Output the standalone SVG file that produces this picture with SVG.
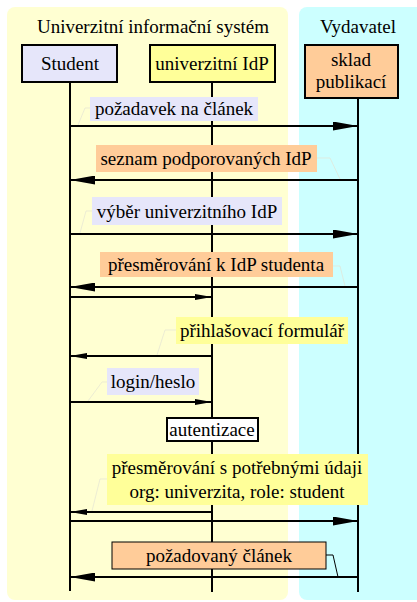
<svg xmlns="http://www.w3.org/2000/svg" width="417" height="602" viewBox="0 0 417 602" font-family="'Liberation Serif', 'DejaVu Serif', serif">
<style>
text{font-family:'Liberation Serif','DejaVu Serif',serif;font-size:19px;fill:#000;text-anchor:middle}
.life{stroke:#000;stroke-width:2;fill:none}
.msg{stroke:#000;stroke-width:2;fill:none}
.call{stroke:#e4e4d4;stroke-width:0.7;fill:none}
.lav{fill:#e6e6fa}
.org{fill:#ffcc99}
.yel{fill:#ffff99}
.actor{stroke:#000;stroke-width:2}
</style>
<defs>
<marker id="big" markerWidth="25" markerHeight="9" refX="25" refY="4.5" orient="auto" markerUnits="userSpaceOnUse"><path d="M0,0 L25,4.5 L0,9 Z" fill="#000"/></marker>
<marker id="small" markerWidth="17" markerHeight="6" refX="17" refY="3" orient="auto" markerUnits="userSpaceOnUse"><path d="M0,0 L17,3 L0,6 Z" fill="#000"/></marker>
</defs>
<g id="panels">
<rect x="7" y="7" width="281" height="593" rx="8" fill="#ffffd2"/>
<rect x="299" y="7" width="130" height="593" rx="8" fill="#ccffff"/>
<text x="153" y="33">Univerzitní informační systém</text>
<text x="358" y="33">Vydavatel</text>
</g>
<g id="connectors">
<line class="life" x1="70" y1="82" x2="70" y2="591"/>
<line class="life" x1="212" y1="82" x2="212" y2="592"/>
<line class="life" x1="358" y1="98" x2="358" y2="592"/>
<line class="msg" x1="70" y1="126" x2="358" y2="126" marker-end="url(#big)"/>
<line class="msg" x1="358" y1="180" x2="70" y2="180" marker-end="url(#big)"/>
<line class="msg" x1="70" y1="234" x2="358" y2="234" marker-end="url(#big)"/>
<line class="msg" x1="358" y1="287" x2="70" y2="287" marker-end="url(#big)"/>
<line class="msg" x1="70" y1="297" x2="212" y2="297" marker-end="url(#small)"/>
<line class="msg" x1="212" y1="356" x2="70" y2="356" marker-end="url(#small)"/>
<line class="msg" x1="70" y1="402" x2="212" y2="402" marker-end="url(#small)"/>
<line class="msg" x1="212" y1="512" x2="70" y2="512" marker-end="url(#small)"/>
<line class="msg" x1="70" y1="521" x2="358" y2="521" marker-end="url(#big)"/>
<line class="msg" x1="358" y1="577" x2="70" y2="577" marker-end="url(#big)"/>
<polyline class="call" points="90,108 85,108 78,125"/>
<polyline class="call" points="317,158 330,158 340,179"/>
<polyline class="call" points="92,211 86,211 80,233"/>
<polyline class="call" points="333,266 340,266 345,286"/>
<polyline class="call" points="176,330 165,330 157,355"/>
<polyline class="call" points="107,382 102,382 88,401"/>
<polyline class="call" points="107,479 100,479 92,511"/>
<polyline points="326,555 333,555 338,577" fill="none" stroke="#000" stroke-width="1"/>
</g>
<g id="student">
<rect class="actor lav" x="22" y="45" width="95" height="37"/>
<text x="70" y="70">Student</text>
</g>
<g id="idp">
<rect class="actor yel" x="150" y="45" width="125" height="37"/>
<text x="212" y="70">univerzitní IdP</text>
</g>
<g id="sklad">
<rect class="actor org" x="305" y="45" width="93" height="53"/>
<text x="351" y="66">sklad</text>
<text x="351" y="88">publikací</text>
</g>
<g id="m1"><rect class="lav" x="90" y="97" width="168" height="24"/><text x="174" y="115">požadavek na článek</text></g>
<g id="m2"><rect class="org" x="96" y="145" width="221" height="27"/><text x="206" y="165">seznam podporovaných IdP</text></g>
<g id="m3"><rect class="lav" x="92" y="197" width="190" height="28"/><text x="187" y="218">výběr univerzitního IdP</text></g>
<g id="m4"><rect class="org" x="100" y="252" width="233" height="25"/><text x="216" y="271">přesměrování k IdP studenta</text></g>
<g id="m5"><rect class="yel" x="176" y="317" width="172" height="27"/><text x="262" y="337">přihlašovací formulář</text></g>
<g id="m6"><rect class="lav" x="107" y="368" width="92" height="27"/><text x="153" y="388">login/heslo</text></g>
<g id="autentizace"><rect x="167" y="418" width="91" height="23" fill="#fff" stroke="#000" stroke-width="2"/><text x="212" y="436">autentizace</text></g>
<g id="m7"><rect class="yel" x="107" y="454" width="261" height="51"/><text x="237" y="474">přesměrování s potřebnými údaji</text><text x="237" y="498">org: univerzita, role: student</text></g>
<g id="m8"><rect class="org" x="112" y="542" width="214" height="27" stroke="#000" stroke-width="1"/><text x="219" y="562">požadovaný článek</text></g>
</svg>
